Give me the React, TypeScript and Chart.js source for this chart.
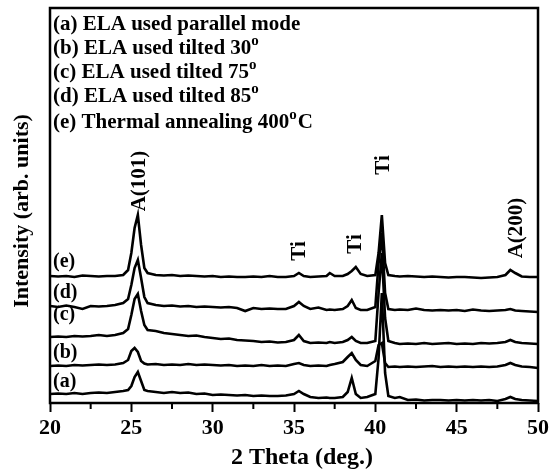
import React, { useEffect, useRef } from "react";
import { Chart, registerables } from "chart.js";

Chart.register(...registerables);

// 2-theta sampling positions (deg.)
const thetas = [
  20, 20.5, 21, 21.5, 22, 22.5, 23, 23.5, 24, 24.5,
  24.8, 25.0, 25.2, 25.4, 25.6, 25.8, 26.0,
  26.5, 27, 27.5, 28, 28.5, 29, 29.5, 30, 30.5, 31, 31.5, 32, 32.5, 33, 33.5, 34, 34.5,
  35, 35.3, 35.6, 36, 36.5, 37, 37.2, 37.5, 38, 38.3, 38.55, 38.8, 39.1, 39.5,
  40.0, 40.2, 40.4, 40.6, 40.8, 41.2, 41.5,
  42, 42.5, 43, 43.5, 44, 44.5, 45, 45.5, 46, 46.5, 47, 47.5,
  48, 48.3, 48.6, 49, 49.5, 50,
];

// (a) ELA used parallel mode
const seriesA = [
  9, 9.5, 9, 10, 9, 10, 10.5, 10, 11, 12,
  13, 17, 26, 31, 22, 13, 12,
  11, 10, 11, 10, 10.5, 9, 9.5, 8, 8.5, 8, 7.5, 8, 7, 7.5, 7, 7, 7.5,
  9, 12, 9, 6, 5, 5.5, 5, 5, 6, 11, 25, 9, 5, 6,
  9, 45, 110, 30, 7, 5, 6,
  3, 3.5, 2.5, 3, 3, 2.5, 3, 2.5, 3, 2.5, 3, 2,
  4, 6, 4, 3, 2.5, 2,
];

// (b) ELA used tilted 30°
const seriesB = [
  37, 37.5, 37, 38, 37.5, 38, 38.5, 38, 38.5, 40,
  43, 52, 55, 51, 42, 39.5, 38.5,
  39, 38, 38.5, 38, 39, 38, 38.5, 38, 37.5, 38, 37, 37.5, 37, 38, 37, 37.5, 37,
  39, 40, 38, 37, 37.5, 37, 38, 39, 41, 46, 50, 43, 38, 37,
  42, 58, 60, 40, 36, 36.5, 36,
  36.5, 36, 36.5, 37, 36, 36.5, 36, 36.5, 36, 36.5, 36, 36.5,
  38, 40, 38, 36.5, 36, 35,
];

// (c) ELA used tilted 75°
const seriesC = [
  66, 66.5, 66, 67, 66.5, 67, 68, 67, 68, 70,
  74, 88, 104, 109, 92, 78, 73,
  72, 70, 69, 68, 67, 67.5, 66, 65, 64, 64.5, 63, 62.5, 62, 61, 61.5, 60.5, 61,
  63, 68, 62, 60, 60.5, 60, 61, 60, 61, 63, 66, 62, 60, 60,
  62, 110, 150, 85, 62, 60, 59,
  59.5, 59, 60, 59, 59.5, 60, 59, 59.5, 59, 60, 59.5, 60,
  61, 63, 61, 60, 59.5, 59,
];

// (d) ELA used tilted 85°
const seriesD = [
  97, 96, 97.5, 96, 94, 97, 96.5, 97, 98, 100,
  104, 118, 135, 143, 125, 106, 100,
  98, 97, 97.5, 96.5, 97, 96, 96.5, 96, 95.5, 96, 95, 92, 95, 94, 94.5, 94, 94,
  97, 101, 97, 94, 95.5, 93, 93.5, 93, 94, 97, 103, 95, 93, 93,
  96, 140, 170, 110, 94, 93, 93.5,
  93, 94.5, 93, 92.5, 93, 92.5, 93, 92, 93.5, 92.5, 92, 92.5,
  93, 94, 92.5, 92, 91.5, 91,
];

// (e) Thermal annealing 400°C
const seriesE = [
  127, 126.5, 127, 126, 127.5, 127, 126.5, 127, 127, 128,
  133, 150, 175, 188, 158, 135, 130,
  128, 127.5, 128, 127, 127.5, 127, 126.5, 127, 126, 126.5, 126, 126, 126.5, 126, 127, 126, 126,
  127, 130, 127, 126, 126.5, 127, 130, 127, 127, 129, 132, 136, 129, 127,
  128, 150, 188, 140, 128, 127, 126.5,
  127, 126.5, 126, 126.5, 126, 125.5, 126, 126, 125.5, 125, 125.5, 126,
  128, 133, 130, 126.5, 126, 126,
];

const allSeries = [seriesA, seriesB, seriesC, seriesD, seriesE];
const traceNames = ["(a)", "(b)", "(c)", "(d)", "(e)"];
const traceLabelY = [21, 50, 88, 110, 141];

const legendLines: [string, boolean][][] = [
  [["(a) ELA used parallel mode", false]],
  [["(b) ELA used tilted 30", false], ["o", true]],
  [["(c) ELA used tilted 75", false], ["o", true]],
  [["(d) ELA used tilted 85", false], ["o", true]],
  [["(e) Thermal annealing 400", false], ["o", true], ["C", false]],
];
const legendBaselines = [30, 54, 78, 102, 128];

const peakLabels = [
  { text: "A(101)", x: 25.5, y: 222 },
  { text: "Ti", x: 35.35, y: 152 },
  { text: "Ti", x: 38.8, y: 159 },
  { text: "Ti", x: 40.5, y: 238 },
  { text: "A(200)", x: 48.7, y: 175 },
];

const xMinorTicks = [22.5, 27.5, 32.5, 37.5, 42.5, 47.5];
const xTitle = "2 Theta (deg.)";
const yTitle = "Intensity (arb. units)";

const FONT = '"Liberation Serif", "Times New Roman", serif';

const textPlugin = {
  id: "textPlugin",
  afterDraw(chart: any) {
    const { ctx, chartArea: a, scales } = chart;
    const xs = scales.x;
    const ys = scales.y;
    ctx.save();
    // frame
    ctx.strokeStyle = "#000";
    ctx.lineWidth = 2.5;
    ctx.lineCap = "square";
    ctx.strokeRect(a.left, a.top, a.right - a.left, a.bottom - a.top);
    // minor ticks
    ctx.beginPath();
    ctx.lineWidth = 2;
    xMinorTicks.forEach((v) => {
      const px = xs.getPixelForValue(v);
      ctx.moveTo(px, a.bottom);
      ctx.lineTo(px, a.bottom + 6);
    });
    ctx.lineCap = "butt";
    ctx.stroke();

    ctx.fillStyle = "#000";
    // legend text
    legendLines.forEach((segs, i) => {
      let x = a.left + 3;
      const y = legendBaselines[i];
      segs.forEach(([t, sup]) => {
        ctx.font = sup ? `bold 15px ${FONT}` : `bold 21px ${FONT}`;
        ctx.textAlign = "left";
        ctx.textBaseline = "alphabetic";
        ctx.fillText(t, x, sup ? y - 9 : y);
        x += ctx.measureText(t).width + (sup ? 1 : 0);
      });
    });

    // trace labels
    ctx.font = `bold 20px ${FONT}`;
    ctx.textAlign = "left";
    ctx.textBaseline = "middle";
    traceNames.forEach((n, i) => {
      ctx.fillText(n, a.left + 3, ys.getPixelForValue(traceLabelY[i]));
    });

    // peak labels (rotated)
    ctx.font = `bold 21px ${FONT}`;
    peakLabels.forEach((p) => {
      ctx.save();
      ctx.translate(xs.getPixelForValue(p.x), ys.getPixelForValue(p.y));
      ctx.rotate(-Math.PI / 2);
      ctx.textAlign = "center";
      ctx.textBaseline = "middle";
      ctx.fillText(p.text, 0, 0);
      ctx.restore();
    });

    // axis titles
    ctx.font = `bold 24px ${FONT}`;
    ctx.textAlign = "center";
    ctx.textBaseline = "alphabetic";
    ctx.fillText(xTitle, 302, 464);

    ctx.save();
    ctx.translate(28, 211);
    ctx.rotate(-Math.PI / 2);
    ctx.font = `bold 22px ${FONT}`;
    ctx.textAlign = "center";
    ctx.textBaseline = "alphabetic";
    ctx.fillText(yTitle, 0, 0);
    ctx.restore();

    ctx.restore();
  },
};

export default function App() {
  const canvasRef = useRef<HTMLCanvasElement | null>(null);

  useEffect(() => {
    if (!canvasRef.current) return;
    const datasets = allSeries.map((s, i) => ({
      label: traceNames[i],
      data: thetas.map((t, j) => ({ x: t, y: s[j] })),
      borderColor: "#000",
      borderWidth: 2.6,
      pointRadius: 0,
      tension: 0,
      fill: false,
    }));
    const chart = new Chart(canvasRef.current, {
      type: "line",
      data: { datasets },
      options: {
        animation: false,
        responsive: true,
        maintainAspectRatio: false,
        layout: { padding: { left: 50, right: 14, top: 8, bottom: 0 } },
        plugins: { legend: { display: false }, tooltip: { enabled: false } },
        scales: {
          x: {
            type: "linear",
            min: 20,
            max: 50,
            afterFit: (s: any) => {
              s.height = 69;
            },
            ticks: {
              stepSize: 5,
              autoSkip: false,
              maxRotation: 0,
              padding: 3,
              color: "#000",
              font: { family: FONT, size: 22, weight: "bold" },
            },
            grid: {
              display: true,
              drawOnChartArea: false,
              drawTicks: true,
              tickLength: 9,
              tickWidth: 2,
              tickColor: "#000",
            },
            border: { display: false },
          },
          y: {
            type: "linear",
            display: false,
            min: 0,
            max: 395,
          },
        },
      },
      plugins: [textPlugin],
    });
    return () => chart.destroy();
  }, []);

  return (
    <div style={{ position: "absolute", left: 0, top: 0, width: 552, height: 472 }}>
      <canvas ref={canvasRef} />
    </div>
  );
}
